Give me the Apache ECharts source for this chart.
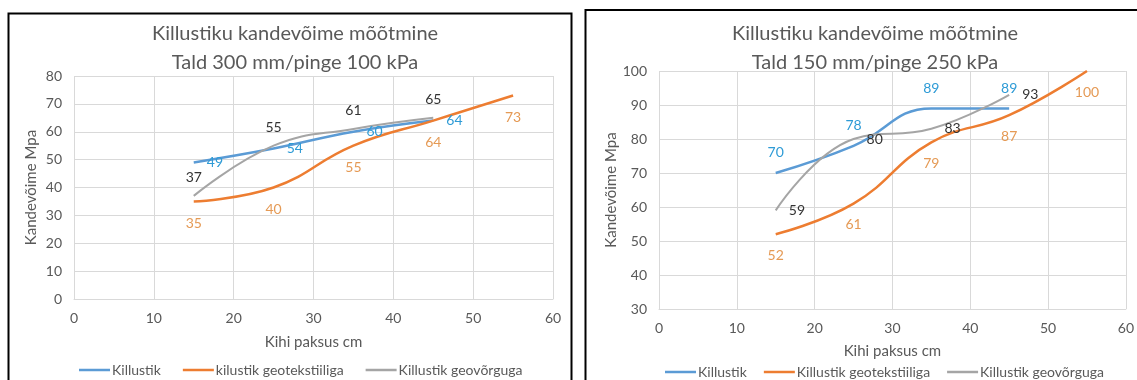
<!DOCTYPE html>
<html>
<head>
<meta charset="utf-8">
<script src="https://cdn.jsdelivr.net/npm/echarts@6/dist/echarts.min.js"></script>
<style>
  html, body { margin: 0; padding: 0; background: #fff; }
  #chart { width: 1137px; height: 380px; }
</style>
</head>
<body>
<div id="chart"></div>
<script>
// kihi paksus (cm)
const kihiPaksus = [15, 25, 35, 45, 55];

// vasak graafik: Tald 300 mm / pinge 100 kPa
const killustikA = [49, 54, 60, 64];
const geotekstA = [35, 40, 55, 64, 73];
const geovorkA = [37, 55, 61, 65];

// parem graafik: Tald 150 mm / pinge 250 kPa
const killustikB = [70, 78, 89, 89];
const geotekstB = [52, 61, 79, 87, 100];
const geovorkB = [59, 80, 83, 93];

const namesA = ['Killustik', 'kilustik geotekstiiliga', 'Killustik geovõrguga'];
const namesB = ['Killustik', 'Killustik geotekstiiliga', 'Killustik geovõrguga'];

const font = 'Lato, "Open Sans", sans-serif';
const blue = '#5B9BD5', orange = '#ED7D31', gray = '#A5A5A5';
const labelColors = ['#2E9BD6', '#E59A55', '#333333'];

const pairs = (vals) => vals.map((v, i) => [kihiPaksus[i], v]);

// joone seeria koos väärtussiltidega (sildid vajavad sümbolit, teeme selle nähtamatuks)
function makeSeries(name, vals, idx, color, width, pos, dist, labelColor) {
  return {
    name: name,
    type: 'line',
    xAxisIndex: idx,
    yAxisIndex: idx,
    data: pairs(vals),
    smooth: 0.45,
    symbol: 'circle',
    symbolSize: 0.1,
    showSymbol: true,
    lineStyle: { color: color, width: width },
    itemStyle: { color: color },
    label: {
      show: true,
      position: pos,
      distance: dist,
      color: labelColor,
      fontSize: 14,
      fontFamily: font
    },
    labelLayout: { hideOverlap: false },
    emphasis: { disabled: true }
  };
}

function xAx(idx, nameGap) {
  return {
    gridIndex: idx,
    type: 'value',
    min: 0, max: 60, interval: 10,
    name: 'Kihi paksus cm',
    nameLocation: 'middle',
    nameGap: nameGap,
    nameTextStyle: { color: '#595959', fontSize: 15, fontFamily: font },
    axisLine: { show: true, lineStyle: { color: '#D9D9D9' } },
    axisTick: { show: false },
    axisLabel: { color: '#595959', fontSize: 14, fontFamily: font, margin: 12 },
    splitLine: { show: true, lineStyle: { color: '#D9D9D9' } }
  };
}

function yAx(idx, min, max, nameGap) {
  return {
    gridIndex: idx,
    type: 'value',
    min: min, max: max, interval: 10,
    name: 'Kandevõime Mpa',
    nameLocation: 'middle',
    nameGap: nameGap,
    nameTextStyle: { color: '#595959', fontSize: 15, fontFamily: font },
    axisLine: { show: false },
    axisTick: { show: false },
    axisLabel: { color: '#595959', fontSize: 14, fontFamily: font, margin: 12 },
    splitLine: { show: true, lineStyle: { color: '#D9D9D9' } }
  };
}

const myChart = echarts.init(document.getElementById('chart'));

const option = {
  backgroundColor: '#fff',
  animation: false,
  graphic: [
    { type: 'rect', shape: { x: 8.5, y: 13.5, width: 563, height: 400 },
      style: { fill: 'none', stroke: '#000', lineWidth: 2 } },
    { type: 'rect', shape: { x: 585.5, y: 10, width: 570, height: 400 },
      style: { fill: 'none', stroke: '#000', lineWidth: 2 } }
  ],
  title: [
    {
      text: 'Killustiku kandevõime mõõtmine\nTald 300 mm/pinge 100 kPa',
      left: 290, top: 14, textAlign: 'center',
      textStyle: { color: '#595959', fontSize: 20, fontWeight: 'normal', fontFamily: font, lineHeight: 29 }
    },
    {
      text: 'Killustiku kandevõime mõõtmine\nTald 150 mm/pinge 250 kPa',
      left: 870, top: 14, textAlign: 'center',
      textStyle: { color: '#595959', fontSize: 20, fontWeight: 'normal', fontFamily: font, lineHeight: 29 }
    }
  ],
  legend: [
    {
      data: namesA, left: 74, top: 358,
      itemWidth: 31, itemHeight: 14, itemGap: 22,
      icon: 'path://M0,6 L31,6 L31,8.5 L0,8.5 Z',
      textStyle: { color: '#595959', fontSize: 14, fontFamily: font, padding: [0, 0, 0, -3] }
    },
    {
      data: namesB, left: 660, top: 360,
      itemWidth: 31, itemHeight: 14, itemGap: 17,
      icon: 'path://M0,6 L31,6 L31,8.5 L0,8.5 Z',
      textStyle: { color: '#595959', fontSize: 14, fontFamily: font, padding: [0, 0, 0, -3] }
    }
  ],
  grid: [
    { left: 74, right: 584, top: 76, bottom: 81 },
    { left: 659, right: 8, top: 71, bottom: 71 }
  ],
  xAxis: [xAx(0, 36), xAx(1, 35)],
  yAxis: [yAx(0, 0, 80, 35), yAx(1, 30, 100, 40)],
  series: [
    makeSeries(namesA[0], killustikA, 0, blue, 2.5, 'right', 13, labelColors[0]),
    makeSeries(namesA[1], geotekstA, 0, orange, 2.5, 'bottom', 15, labelColors[1]),
    makeSeries(namesA[2], geovorkA, 0, gray, 2, 'top', 11, labelColors[2]),
    makeSeries(namesB[0], killustikB, 1, blue, 2.5, 'top', 13, labelColors[0]),
    makeSeries(namesB[1], geotekstB, 1, orange, 2.5, 'bottom', 14, labelColors[1]),
    makeSeries(namesB[2], geovorkB, 1, gray, 2, 'right', 13, labelColors[2])
  ]
};

myChart.setOption(option);
</script>
</body>
</html>
